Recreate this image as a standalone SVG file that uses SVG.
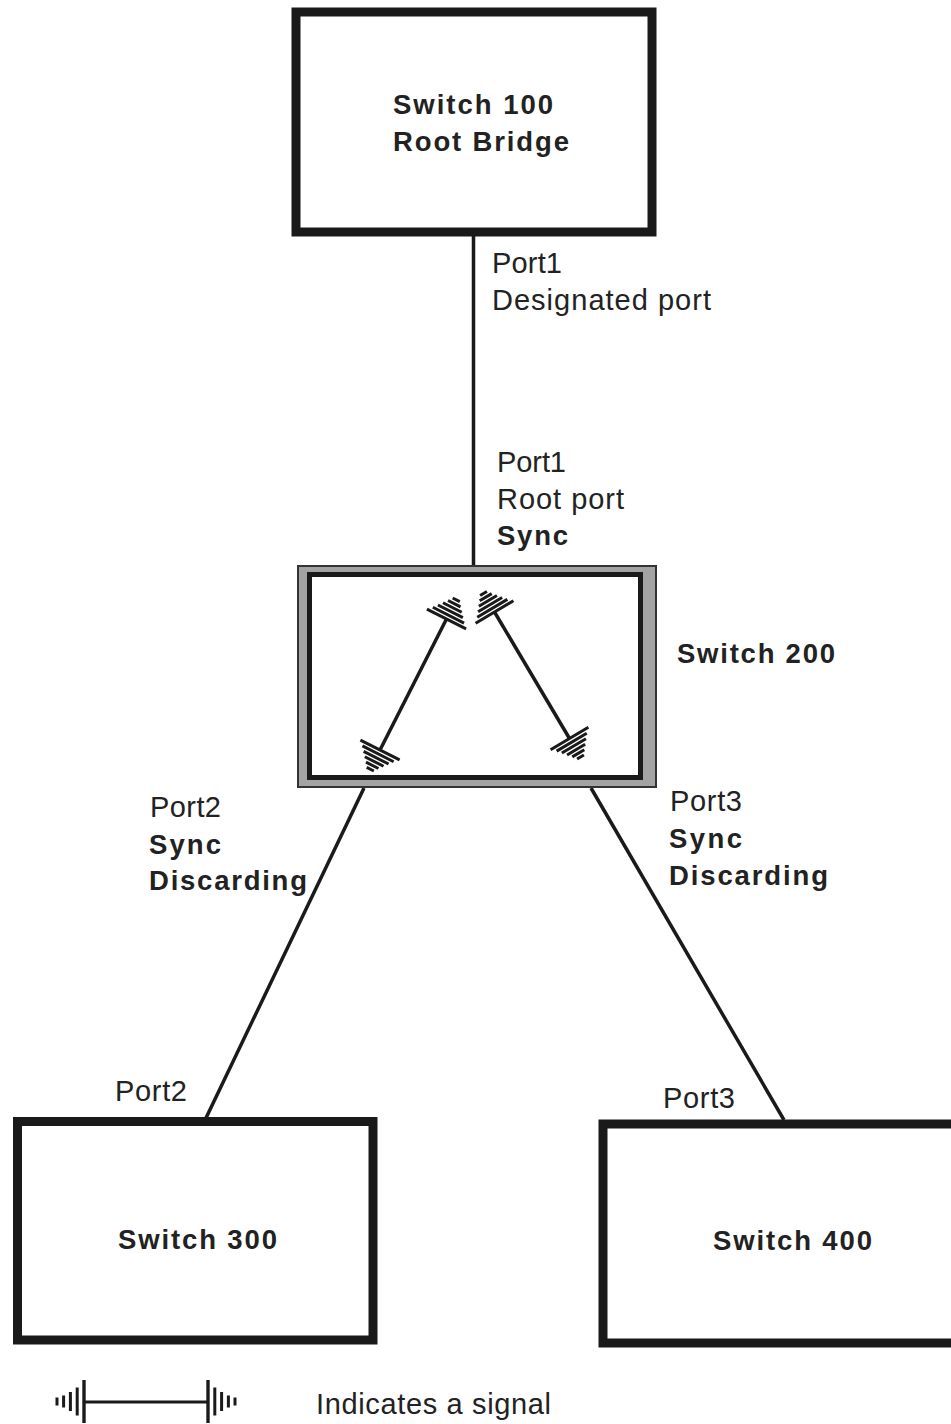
<svg xmlns="http://www.w3.org/2000/svg" xmlns:xlink="http://www.w3.org/1999/xlink" width="951" height="1424" viewBox="0 0 951 1424">
<style>
.box{fill:#fff;stroke:#1a1a1a;stroke-width:9}
.lnk{stroke:#1a1a1a;stroke-width:3.5;fill:none}
.r{font-family:"Liberation Sans",Arial,sans-serif;font-size:29px;fill:#222}
.b{font-family:"Liberation Sans",Arial,sans-serif;font-size:27.5px;font-weight:bold;fill:#222}
.bar{stroke:#1a1a1a;stroke-width:3;fill:none}
</style>
<defs>
<g id="sig">
<path class="bar" d="M0,-22V22M4.3,-17.5V17.5M8.6,-14V14M12.9,-10.5V10.5M17.2,-7V7M21.5,-4V4"/>
</g>
<g id="sigL">
<path d="M0,-21.5V21.5" stroke="#1a1a1a" stroke-width="3.4"/>
<path class="bar" d="M-6.8,-14V14M-13.6,-9.5V9.5M-20.4,-6V6M-27,-4V4" stroke-width="3.2"/>
</g>
</defs>
<rect width="951" height="1424" fill="#fff"/>
<g id="connectors">
<line class="lnk" x1="473.5" y1="235" x2="473.5" y2="566" stroke-width="4"/>
<line class="lnk" x1="364" y1="788" x2="206" y2="1118"/>
<line class="lnk" x1="591" y1="788" x2="784" y2="1120"/>
</g>
<g id="switch100">
<rect class="box" x="296" y="12" width="356" height="220"/>
<text class="b" x="393" y="113.5" textLength="160" lengthAdjust="spacing">Switch 100</text>
<text class="b" x="393" y="150.5" textLength="176" lengthAdjust="spacing">Root Bridge</text>
</g>
<g id="switch200">
<rect x="298" y="566" width="358" height="221" fill="#a3a3a3" stroke="#333" stroke-width="2"/>
<rect x="309.5" y="574.5" width="331" height="203" fill="#fff" stroke="#1a1a1a" stroke-width="5"/>
<g id="signals200">
<line class="lnk" x1="380" y1="750" x2="446.5" y2="619" stroke-width="3.2"/>
<line class="lnk" x1="494.5" y1="612" x2="569.5" y2="738.5" stroke-width="3.2"/>
<use xlink:href="#sig" transform="translate(446.5,619) rotate(-63.1)"/>
<use xlink:href="#sig" transform="translate(380,750) rotate(116.9)"/>
<use xlink:href="#sig" transform="translate(494.5,612) rotate(-120.7)"/>
<use xlink:href="#sig" transform="translate(569.5,738.5) rotate(59.3)"/>
</g>
<text class="b" x="677" y="663" textLength="158" lengthAdjust="spacing">Switch 200</text>
</g>
<g id="switch300">
<rect class="box" x="17.5" y="1121.5" width="355.5" height="218.5"/>
<text class="b" x="118" y="1248.5" textLength="159" lengthAdjust="spacing">Switch 300</text>
</g>
<g id="switch400">
<path class="box" d="M965,1124H603V1343H965"/>
<text class="b" x="713" y="1249.5" textLength="159" lengthAdjust="spacing">Switch 400</text>
</g>
<g id="labels">
<text class="r" x="492" y="273" textLength="70" lengthAdjust="spacing">Port1</text>
<text class="r" x="492" y="310" textLength="219" lengthAdjust="spacing">Designated port</text>
<text class="r" x="497" y="472" textLength="69" lengthAdjust="spacing">Port1</text>
<text class="r" x="497" y="508.5" textLength="127" lengthAdjust="spacing">Root port</text>
<text class="b" x="497" y="545" textLength="71" lengthAdjust="spacing">Sync</text>
<text class="r" x="150" y="816.5" textLength="71" lengthAdjust="spacing">Port2</text>
<text class="b" x="149" y="853.5" textLength="72" lengthAdjust="spacing">Sync</text>
<text class="b" x="149" y="890" textLength="158" lengthAdjust="spacing">Discarding</text>
<text class="r" x="670" y="811" textLength="72" lengthAdjust="spacing">Port3</text>
<text class="b" x="669" y="848" textLength="73" lengthAdjust="spacing">Sync</text>
<text class="b" x="669" y="885" textLength="159" lengthAdjust="spacing">Discarding</text>
<text class="r" x="115" y="1100.5" textLength="72" lengthAdjust="spacing">Port2</text>
<text class="r" x="663" y="1107.5" textLength="72" lengthAdjust="spacing">Port3</text>
</g>
<g id="legend">
<line x1="84" y1="1402" x2="208" y2="1402" stroke="#1a1a1a" stroke-width="3"/>
<use xlink:href="#sigL" transform="translate(84,1401.5)"/>
<use xlink:href="#sigL" transform="translate(208,1401.5) scale(-1,1)"/>
<text class="r" x="316" y="1414" textLength="235" lengthAdjust="spacing">Indicates a signal</text>
</g>
</svg>
